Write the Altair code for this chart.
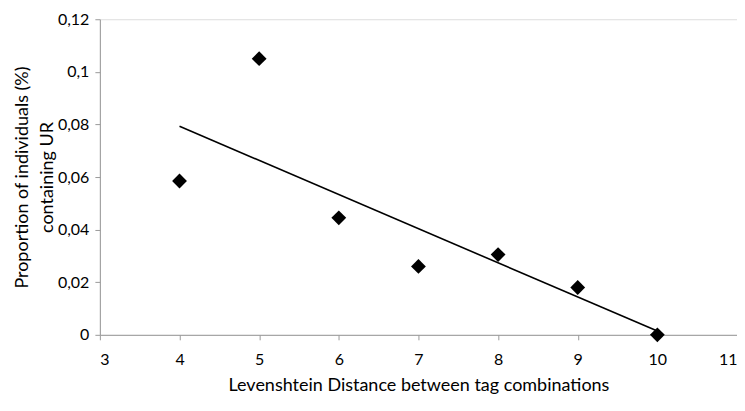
import altair as alt
import pandas as pd

distance = [4, 5, 6, 7, 8, 9, 10]
proportion = [0.0585, 0.105, 0.0445, 0.026, 0.0305, 0.018, 0.0]

df = pd.DataFrame({"distance": distance, "proportion": proportion})

FONT = "Lato"
label_expr = "replace(format(datum.value, '.2~f'), '.', ',')"

x = alt.X("distance:Q",
          scale=alt.Scale(domain=[3, 11], nice=False, zero=False),
          axis=alt.Axis(values=[3, 4, 5, 6, 7, 8, 9, 10, 11], title="Levenshtein Distance between tag combinations",
                        grid=False, domainColor="#9a9a9a", tickColor="#9a9a9a", tickSize=5,
                        labelFont=FONT, labelFontSize=16, labelColor="#000", labelPadding=12,
                        titleFont=FONT, titleFontSize=18, titleFontWeight="normal", titleColor="#000",
                        titlePadding=9))
y = alt.Y("proportion:Q",
          scale=alt.Scale(domain=[0, 0.12], nice=False),
          axis=alt.Axis(values=[0, 0.02, 0.04, 0.06, 0.08, 0.1, 0.12], labelExpr=label_expr,
                        title=["Proportion of individuals (%)", "containing UR"],
                        grid=False, domainColor="#9a9a9a", tickColor="#9a9a9a", tickSize=5,
                        labelFont=FONT, labelFontSize=16, labelColor="#000", labelPadding=6,
                        titleFont=FONT, titleFontSize=18, titleFontWeight="normal", titleColor="#000",
                        titleLineHeight=25, titlePadding=1))

points = alt.Chart(df).mark_point(shape="diamond", filled=True, color="black", opacity=1, size=220).encode(x=x, y=y)

trend = alt.Chart(df).transform_regression("distance", "proportion").mark_line(
    color="black", strokeWidth=1.6).encode(x=x, y=y)

chart = alt.layer(trend, points).properties(
    width=638, height=316,
    autosize=alt.AutoSizeParams(type="none"),
    padding={"left": 92, "top": 11, "right": 0, "bottom": 60},
).configure_view(stroke=None).configure(background="white")

chart.save("out.html", embed_options={"renderer": "svg", "actions": False})
